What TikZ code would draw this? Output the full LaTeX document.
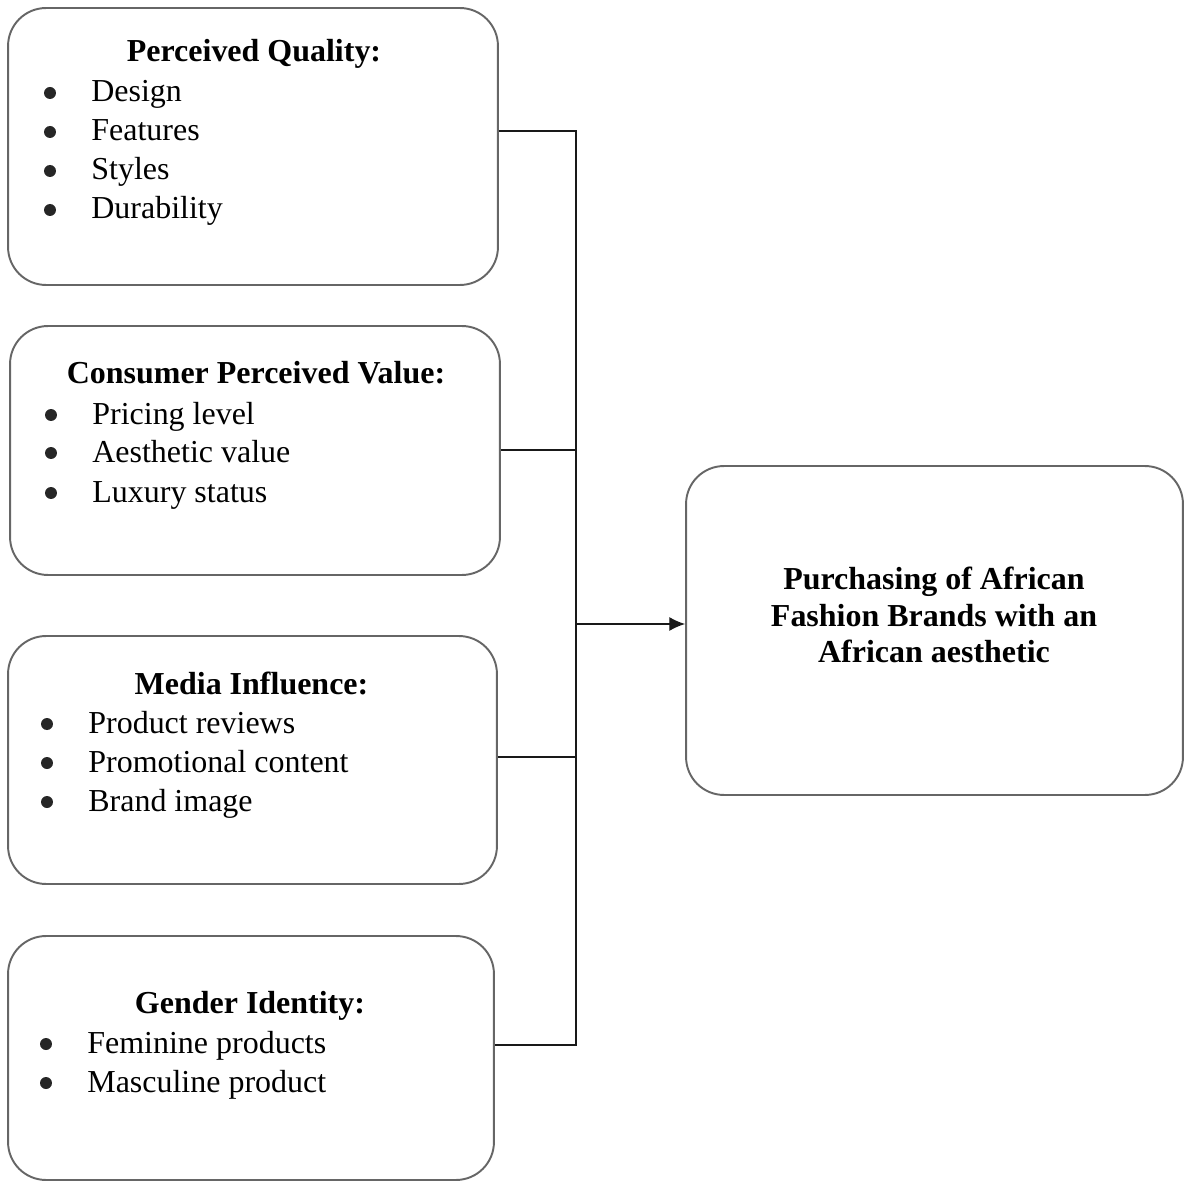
\documentclass[tikz,border=0pt]{standalone}
\usepackage{fontspec}
\setmainfont{Liberation Serif}
\usetikzlibrary{positioning, arrows.meta}
\tikzset{every picture/.style={>={Latex[length=9pt,width=8pt]}}}
\newcommand{\figsize}{\fontsize{18.2}{20.8}\selectfont}
\tikzset{
    factor/.style={draw=black!60, line width=1.1pt, rounded corners=0.76cm},
    heading/.style={font=\figsize\bfseries, inner sep=0pt, anchor=base},
    item/.style={font=\figsize, inner sep=0pt, anchor=base west},
    link/.style={draw=black!90, line width=0.8pt}
}

\begin{document}
\begin{tikzpicture}[
    x=0.02cm, y=-0.02cm
]

\useasboundingbox (0,0) rectangle (1190,1182);

% ------------------------------------------------------------
% Factor boxes
% ------------------------------------------------------------

\node[factor, minimum width=9.8cm, minimum height=5.54cm] (quality) at (253,146.5) {};
\node[factor, minimum width=9.8cm, minimum height=4.98cm] (value) at (255,450.5) {};
\node[factor, minimum width=9.78cm, minimum height=4.96cm] (media) at (252.5,760) {};
\node[factor, minimum width=9.72cm, minimum height=4.88cm] (gender) at (251,1058) {};
\node[factor, minimum width=9.94cm, minimum height=6.58cm] (purchase) at (934.5,630.5) {};

% Headings
\node[heading] (qualityTitle) at (254,62) {Perceived Quality:};
\node[heading] (valueTitle) at (256,384) {Consumer Perceived Value:};
\node[heading] (mediaTitle) at (251.5,694) {Media Influence:};
\node[heading] (genderTitle) at (250,1013) {Gender Identity:};

% Items
\node[item] (design) at (91,102) {Design};
\node[item] (features) at (91,141) {Features};
\node[item] (styles) at (91,180) {Styles};
\node[item] (durability) at (91,219) {Durability};

\node[item] (pricing) at (92,424) {Pricing level};
\node[item] (aesthetic) at (92,462) {Aesthetic value};
\node[item] (luxury) at (92,502) {Luxury status};

\node[item] (reviews) at (88,733) {Product reviews};
\node[item] (promo) at (88,772) {Promotional content};
\node[item] (image) at (88,811) {Brand image};

\node[item] (feminine) at (87,1053) {Feminine products};
\node[item] (masculine) at (87,1092) {Masculine product};

% Outcome
\node[font=\figsize\bfseries, align=center, inner sep=0pt] (purchaseText) at (934,615)
    {Purchasing of African\\Fashion Brands with an\\African aesthetic};

% ------------------------------------------------------------
% Bullets
% ------------------------------------------------------------

\fill[black!85] (design.base west) ++(-41,-9) circle (0.12cm);
\fill[black!85] (features.base west) ++(-41,-9) circle (0.12cm);
\fill[black!85] (styles.base west) ++(-41,-9) circle (0.12cm);
\fill[black!85] (durability.base west) ++(-41,-9) circle (0.12cm);
\fill[black!85] (pricing.base west) ++(-41,-9) circle (0.12cm);
\fill[black!85] (aesthetic.base west) ++(-41,-9) circle (0.12cm);
\fill[black!85] (luxury.base west) ++(-41,-9) circle (0.12cm);
\fill[black!85] (reviews.base west) ++(-41,-9) circle (0.12cm);
\fill[black!85] (promo.base west) ++(-41,-9) circle (0.12cm);
\fill[black!85] (image.base west) ++(-41,-9) circle (0.12cm);
\fill[black!85] (feminine.base west) ++(-41,-9) circle (0.12cm);
\fill[black!85] (masculine.base west) ++(-41,-9) circle (0.12cm);

% ------------------------------------------------------------
% Connectors
% ------------------------------------------------------------

\coordinate (qualityJoin) at (576,131);
\coordinate (valueJoin) at (576,450);
\coordinate (mediaJoin) at (576,757);
\coordinate (genderJoin) at (576,1045);
\coordinate (arrowJoin) at (576,624);

\draw[link] (quality.east |- qualityJoin) -- (qualityJoin) -- (genderJoin) -- (gender.east |- genderJoin);
\draw[link] (value.east |- valueJoin) -- (valueJoin);
\draw[link] (media.east |- mediaJoin) -- (mediaJoin);
\draw[link,->] (arrowJoin) -- (arrowJoin -| purchase.west);

\end{tikzpicture}
\end{document}
